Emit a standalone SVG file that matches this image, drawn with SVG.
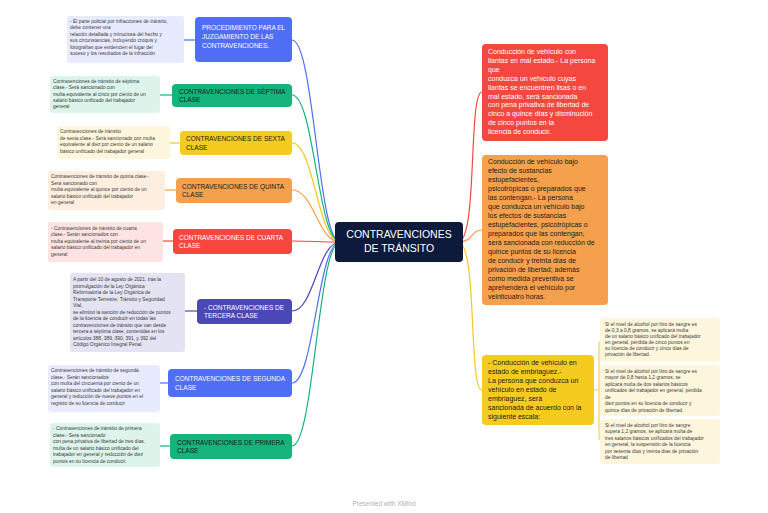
<svg xmlns="http://www.w3.org/2000/svg" width="768" height="513" viewBox="0 0 768 513">
<style>
text{font-family:"Liberation Sans",Arial,sans-serif}
.lbl{font-size:6.5px}
.nt{font-size:4.9px;fill:#3a3a3a}
.big{font-size:7px}
.w{fill:#fff}
.k{fill:#1a1a1a}
.c{fill:none;stroke-width:1.2}
</style>
<rect width="768" height="513" fill="#fff"/>
<g id="connectors">
<path class="c" stroke="#4f6ef5" d="M340 242 C318 242 314 40 292 40"/>
<path class="c" stroke="#15b47b" d="M340 242 C318 242 314 95 292 95"/>
<path class="c" stroke="#f2c81e" d="M340 242 C318 242 314 143 292 143"/>
<path class="c" stroke="#f4a04c" d="M340 242 C318 242 314 190 292 190"/>
<path class="c" stroke="#f3473f" d="M340 242 C318 242 314 241 292 241"/>
<path class="c" stroke="#4b47b7" d="M340 242 C318 242 314 311 292 311"/>
<path class="c" stroke="#4f6ef5" d="M340 242 C318 242 314 383 292 383"/>
<path class="c" stroke="#15b47b" d="M340 242 C318 242 314 446 292 446"/>
<path class="c" stroke="#f3473f" d="M458 242 C478 242 468 92 482 92"/>
<path class="c" stroke="#f4a04c" d="M458 242 C474 242 470 230 482 230"/>
<path class="c" stroke="#f2c81e" d="M458 242 C478 242 468 390 482 390"/>
<path class="c" stroke="#4f6ef5" d="M184 40 L195 40"/>
<path class="c" stroke="#15b47b" d="M160 95 L172 95"/>
<path class="c" stroke="#f2c81e" d="M170 143 L180 143"/>
<path class="c" stroke="#f4a04c" d="M165 190 L176 190"/>
<path class="c" stroke="#f3473f" d="M163 241 L173 241"/>
<path class="c" stroke="#4b47b7" d="M185 311 L197 311"/>
<path class="c" stroke="#4f6ef5" d="M160 383 L168 383"/>
<path class="c" stroke="#15b47b" d="M160 446 L170 446"/>
<path class="c" stroke="#f0d060" d="M594 390 L599 390 M604 340 Q599 340 599 345 L599 436 Q599 441 604 441"/>
</g>
<g id="center">
<rect x="335" y="222" width="128" height="40" rx="4" fill="#0e1a3c"/>
<text x="399" y="238" text-anchor="middle" font-size="10.5" class="w">CONTRAVENCIONES</text>
<text x="399" y="252" text-anchor="middle" font-size="10.5" class="w">DE TRÁNSITO</text>
</g>
<g id="n-procedimiento">
<rect x="195" y="17" width="97" height="45" rx="4" fill="#4f6ef5"/>
<text class="lbl w" x="202"><tspan x="202" y="29.5">PROCEDIMIENTO PARA EL</tspan><tspan x="202" y="38.5">JUZGAMIENTO DE LAS</tspan><tspan x="202" y="47.5">CONTRAVENCIONES.</tspan></text>
</g>
<g id="note-procedimiento">
<rect x="67" y="16" width="117" height="47" rx="3" fill="#e8ebfd"/>
<text class="nt"><tspan x="70" y="23">- El parte policial por infracciones de tránsito,</tspan><tspan x="70" y="29">debe contener una</tspan><tspan x="70" y="35.5">relación detallada y minuciosa del hecho y</tspan><tspan x="70" y="42">sus circunstancias, incluyendo croquis y</tspan><tspan x="70" y="48.5">fotografías que evidencien el lugar del</tspan><tspan x="70" y="55">suceso y los resultados de la infracción</tspan></text>
</g>
<g id="n-septima">
<rect x="172" y="84" width="120" height="23" rx="4" fill="#15b47b"/>
<text class="lbl k"><tspan x="179" y="93.5">CONTRAVENCIONES DE SÉPTIMA</tspan><tspan x="179" y="102">CLASE</tspan></text>
</g>
<g id="note-septima">
<rect x="50" y="76" width="110" height="37" rx="3" fill="#ddf4ea"/>
<text class="nt"><tspan x="53" y="83">Contravenciones de tránsito de séptima</tspan><tspan x="53" y="89">clase.- Será sancionado con</tspan><tspan x="53" y="95.5">multa equivalente al cinco por ciento de un</tspan><tspan x="53" y="101.5">salario básico unificado del trabajador</tspan><tspan x="53" y="108">general</tspan></text>
</g>
<g id="n-sexta">
<rect x="180" y="131" width="112" height="24" rx="4" fill="#f5cb20"/>
<text class="lbl k"><tspan x="186" y="141">CONTRAVENCIONES DE SEXTA</tspan><tspan x="186" y="149.5">CLASE</tspan></text>
</g>
<g id="note-sexta">
<rect x="57" y="126" width="113" height="33" rx="3" fill="#fdf6dc"/>
<text class="nt"><tspan x="60" y="133">Contravenciones de tránsito</tspan><tspan x="60" y="139.5">de sexta clase.- Será sancionado con multa</tspan><tspan x="60" y="146">equivalente al diez por ciento de un salario</tspan><tspan x="60" y="152.5">básico unificado del trabajador general</tspan></text>
</g>
<g id="n-quinta">
<rect x="176" y="178" width="116" height="25" rx="4" fill="#f4a04c"/>
<text class="lbl k"><tspan x="182" y="188.5">CONTRAVENCIONES DE QUINTA</tspan><tspan x="182" y="197">CLASE</tspan></text>
</g>
<g id="note-quinta">
<rect x="48" y="171" width="117" height="39" rx="3" fill="#fdeee0"/>
<text class="nt"><tspan x="51" y="178">Contravenciones de tránsito de quinta clase.-</tspan><tspan x="51" y="184.5">Será sancionado con</tspan><tspan x="51" y="191">multa equivalente al quince por ciento de un</tspan><tspan x="51" y="197.5">salario básico unificado del trabajador</tspan><tspan x="51" y="204">en general</tspan></text>
</g>
<g id="n-cuarta">
<rect x="173" y="229" width="119" height="25" rx="4" fill="#f3473f"/>
<text class="lbl w"><tspan x="179" y="239.5">CONTRAVENCIONES DE CUARTA</tspan><tspan x="179" y="248">CLASE</tspan></text>
</g>
<g id="note-cuarta">
<rect x="48" y="222" width="115" height="40" rx="3" fill="#fde3e2"/>
<text class="nt"><tspan x="51" y="229.5">- Contravenciones de tránsito de cuarta</tspan><tspan x="51" y="236">clase.- Serán sancionados con</tspan><tspan x="51" y="242.5">multa equivalente al treinta por ciento de un</tspan><tspan x="51" y="249">salario básico unificado del trabajador en</tspan><tspan x="51" y="255.5">general</tspan></text>
</g>
<g id="n-tercera">
<rect x="197" y="299" width="95" height="25" rx="4" fill="#4b47b7"/>
<text class="lbl w"><tspan x="204" y="309.5">- CONTRAVENCIONES DE</tspan><tspan x="204" y="318">TERCERA CLASE</tspan></text>
</g>
<g id="note-tercera">
<rect x="70" y="273" width="115" height="79" rx="3" fill="#e4e3f4"/>
<text class="nt"><tspan x="73" y="281">A partir del 10 de agosto de 2021, tras la</tspan><tspan x="73" y="287.5">promulgación de la Ley Orgánica</tspan><tspan x="73" y="294">Reformatoria de la Ley Orgánica de</tspan><tspan x="73" y="300.5">Transporte Terrestre, Tránsito y Seguridad</tspan><tspan x="73" y="307">Vial,</tspan><tspan x="73" y="313.5">se eliminó la sanción de reducción de puntos</tspan><tspan x="73" y="320">de la licencia de conducir en todas las</tspan><tspan x="73" y="326.5">contravenciones de tránsito que van desde</tspan><tspan x="73" y="333">tercera a séptima clase, contenidas en los</tspan><tspan x="73" y="339.5">artículos 388, 389, 390, 391, y 392 del</tspan><tspan x="73" y="346">Código Orgánico Integral Penal.</tspan></text>
</g>
<g id="n-segunda">
<rect x="168" y="369" width="124" height="28" rx="4" fill="#4f6ef5"/>
<text class="lbl w"><tspan x="175" y="381">CONTRAVENCIONES DE SEGUNDA</tspan><tspan x="175" y="389.5">CLASE</tspan></text>
</g>
<g id="note-segunda">
<rect x="48" y="365" width="112" height="47" rx="3" fill="#e8ebfd"/>
<text class="nt"><tspan x="51" y="372">Contravenciones de tránsito de segunda</tspan><tspan x="51" y="378.5">clase.- Serán sancionados</tspan><tspan x="51" y="385">con multa del cincuenta por ciento de un</tspan><tspan x="51" y="391.5">salario básico unificado del trabajador en</tspan><tspan x="51" y="398">general y reducción de nueve puntos en el</tspan><tspan x="51" y="404.5">registro de su licencia de conducir</tspan></text>
</g>
<g id="n-primera">
<rect x="170" y="434" width="122" height="25" rx="4" fill="#15b47b"/>
<text class="lbl k"><tspan x="177" y="444.5">CONTRAVENCIONES DE PRIMERA</tspan><tspan x="177" y="453">CLASE</tspan></text>
</g>
<g id="note-primera">
<rect x="50" y="423" width="110" height="44" rx="3" fill="#ddf4ea"/>
<text class="nt"><tspan x="53" y="430">- Contravenciones de tránsito de primera</tspan><tspan x="53" y="436.5">clase.- Será sancionado</tspan><tspan x="53" y="443">con pena privativa de libertad de tres días,</tspan><tspan x="53" y="449.5">multa de un salario básico unificado del</tspan><tspan x="53" y="456">trabajador en general y reducción de diez</tspan><tspan x="53" y="462.5">puntos en su licencia de conducir.</tspan></text>
</g>
<g id="n-llantas">
<rect x="482" y="44" width="126" height="97" rx="4" fill="#f3473f"/>
<text class="big w"><tspan x="488" y="54">Conducción de vehículo con</tspan><tspan x="488" y="63">llantas en mal estado.- La persona</tspan><tspan x="488" y="72">que</tspan><tspan x="488" y="80.5">conduzca un vehículo cuyas</tspan><tspan x="488" y="89.5">llantas se encuentren lisas o en</tspan><tspan x="488" y="98.5">mal estado, será sancionada</tspan><tspan x="488" y="107">con pena privativa de libertad de</tspan><tspan x="488" y="116">cinco a quince días y disminución</tspan><tspan x="488" y="125">de cinco puntos en la</tspan><tspan x="488" y="134">licencia de conducir.</tspan></text>
</g>
<g id="n-sustancias">
<rect x="482" y="155" width="126" height="150" rx="4" fill="#f4a04c"/>
<text class="big k"><tspan x="488" y="163.5">Conducción de vehículo bajo</tspan><tspan x="488" y="172.5">efecto de sustancias</tspan><tspan x="488" y="181.5">estupefacientes,</tspan><tspan x="488" y="190.5">psicotrópicas o preparados que</tspan><tspan x="488" y="199.5">las contengan.- La persona</tspan><tspan x="488" y="208.5">que conduzca un vehículo bajo</tspan><tspan x="488" y="217.5">los efectos de sustancias</tspan><tspan x="488" y="226.5">estupefacientes, psicotrópicas o</tspan><tspan x="488" y="235.5">preparados que las contengan,</tspan><tspan x="488" y="244.5">será sancionada con reducción de</tspan><tspan x="488" y="253.5">quince puntos de su licencia</tspan><tspan x="488" y="262.5">de conducir y treinta días de</tspan><tspan x="488" y="271.5">privación de libertad; además</tspan><tspan x="488" y="280.5">como medida preventiva se</tspan><tspan x="488" y="289.5">aprehenderá el vehículo por</tspan><tspan x="488" y="298.5">veinticuatro horas.</tspan></text>
</g>
<g id="n-embriaguez">
<rect x="482" y="355" width="112" height="70" rx="4" fill="#f5cb20"/>
<text class="big k"><tspan x="488" y="364.5">- Conducción de vehículo en</tspan><tspan x="488" y="373.5">estado de embriaguez.-</tspan><tspan x="488" y="382.5">La persona que conduzca un</tspan><tspan x="488" y="391.5">vehículo en estado de</tspan><tspan x="488" y="400.5">embriaguez, será</tspan><tspan x="488" y="409.5">sancionada de acuerdo con la</tspan><tspan x="488" y="418.5">siguiente escala:</tspan></text>
</g>
<g id="note-escala-1">
<rect x="600" y="318" width="120" height="44" rx="3" fill="#fdf6dc"/>
<text class="nt"><tspan x="605" y="326"> Si el nivel de alcohol por litro de sangre es</tspan><tspan x="605" y="332">de 0,3 a 0,8 gramos, se aplicará multa</tspan><tspan x="605" y="338">de un salario básico unificado del trabajador</tspan><tspan x="605" y="344">en general, pérdida de cinco puntos en</tspan><tspan x="605" y="350">su licencia de conducir y cinco días de</tspan><tspan x="605" y="356">privación de libertad.</tspan></text>
</g>
<g id="note-escala-2">
<rect x="600" y="365" width="120" height="51" rx="3" fill="#fdf6dc"/>
<text class="nt"><tspan x="605" y="372.5">Si el nivel de alcohol por litro de sangre es</tspan><tspan x="605" y="379">mayor de 0,8 hasta 1,2 gramos, se</tspan><tspan x="605" y="385.5">aplicará multa de dos salarios básicos</tspan><tspan x="605" y="392">unificados del trabajador en general, pérdida</tspan><tspan x="605" y="398.5">de</tspan><tspan x="605" y="405">diez puntos en su licencia de conducir y</tspan><tspan x="605" y="411.5">quince días de privación de libertad.</tspan></text>
</g>
<g id="note-escala-3">
<rect x="600" y="419" width="120" height="45" rx="3" fill="#fdf6dc"/>
<text class="nt"><tspan x="605" y="426.5">Si el nivel de alcohol por litro de sangre</tspan><tspan x="605" y="433">supera 1,2 gramos, se aplicará multa de</tspan><tspan x="605" y="439.5">tres salarios básicos unificados del trabajador</tspan><tspan x="605" y="446">en general, la suspensión de la licencia</tspan><tspan x="605" y="452.5">por sesenta días y treinta días de privación</tspan><tspan x="605" y="459">de libertad</tspan></text>
</g>
<text x="384" y="506" text-anchor="middle" font-size="6.5" fill="#b0b0b0">Presented with XMind</text>
</svg>
